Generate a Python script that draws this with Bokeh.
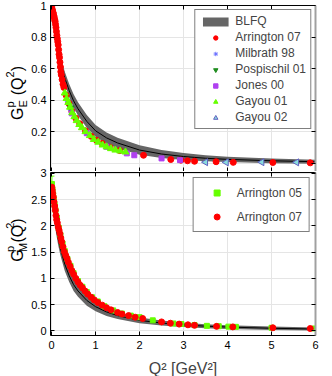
from bokeh.plotting import figure
from bokeh.models import (Range1d, LinearAxis, FixedTicker, Legend, LegendItem,
                          Whisker, ColumnDataSource, TeeHead)
from bokeh.layouts import column, row
from bokeh.core.properties import value
from bokeh.embed import file_html
from bokeh.resources import INLINE
import math

FONT = "Liberation Sans"

# ---------------- data ----------------
x_ticks = [0, 1, 2, 3, 4, 5, 6]
ge_ticks = [0.2, 0.4, 0.6, 0.8, 1]
ge_ticks_all = [0, 0.2, 0.4, 0.6, 0.8, 1]
gm_ticks = [0, 0.5, 1, 1.5, 2, 2.5, 3]

# BLFQ band (Q^2 grid, lower / upper edge, central line)
q_blfq = [0, 0.025, 0.05, 0.1, 0.15, 0.2, 0.3, 0.4, 0.5, 0.6, 0.8, 1.0, 1.25, 1.5, 2.0, 2.5, 3.0, 3.5, 4.0, 5.0, 6.0]
ge_blfq_mid = [1.0, 0.94, 0.885, 0.79, 0.71, 0.645, 0.54, 0.46, 0.395, 0.345, 0.265, 0.205, 0.16, 0.128, 0.083, 0.058, 0.042, 0.031, 0.024, 0.015, 0.009]
ge_blfq_lo = [1.0, 0.934, 0.873, 0.768, 0.68, 0.61, 0.5, 0.418, 0.353, 0.303, 0.225, 0.168, 0.125, 0.095, 0.053, 0.032, 0.02, 0.012, 0.007, 0.0, -0.004]
ge_blfq_hi = [1.0, 0.946, 0.897, 0.812, 0.74, 0.68, 0.58, 0.502, 0.437, 0.387, 0.305, 0.242, 0.195, 0.161, 0.113, 0.084, 0.064, 0.05, 0.041, 0.03, 0.022]
gm_blfq_mid = [2.72, 2.5, 2.3, 1.99, 1.76, 1.57, 1.27, 1.05, 0.88, 0.76, 0.58, 0.46, 0.36, 0.29, 0.2, 0.148, 0.113, 0.089, 0.072, 0.049, 0.034]
gm_blfq_lo = [2.66, 2.42, 2.2, 1.87, 1.63, 1.44, 1.14, 0.93, 0.76, 0.65, 0.48, 0.375, 0.285, 0.225, 0.145, 0.101, 0.071, 0.051, 0.037, 0.017, 0.004]
gm_blfq_hi = [2.78, 2.58, 2.4, 2.11, 1.89, 1.7, 1.4, 1.17, 1.0, 0.87, 0.68, 0.545, 0.435, 0.355, 0.255, 0.195, 0.155, 0.127, 0.107, 0.081, 0.064]

# G_E data sets
ge_a07_q = [0.005, 0.01, 0.02, 0.03, 0.04, 0.05, 0.06, 0.07, 0.08, 0.09, 0.1, 0.11, 0.12, 0.13, 0.14, 0.15,
            0.16, 0.17, 0.18, 0.19, 0.2, 0.21, 0.22, 0.24, 0.26, 0.28, 0.33, 0.39, 0.46, 0.55, 0.64, 0.77,
            0.9, 1.02, 1.15, 1.33, 1.55, 2.09, 2.71, 2.94, 3.09, 3.25, 3.74, 4.13, 5.03, 5.88]
ge_a07 = [0.99, 0.975, 0.97, 0.955, 0.95, 0.935, 0.925, 0.91, 0.9, 0.88, 0.86, 0.835, 0.81, 0.79, 0.77, 0.75,
          0.72, 0.69, 0.67, 0.64, 0.61, 0.58, 0.56, 0.53, 0.5, 0.48, 0.43, 0.38, 0.33, 0.285, 0.25, 0.205,
          0.17, 0.145, 0.125, 0.1, 0.08, 0.05, 0.023, 0.019, 0.015, 0.012, 0.009, 0.005, 0.004, 0.002]
ge_m98_q = [0.37, 0.44]
ge_m98 = [0.39, 0.335]
ge_p01_q = [0.43]
ge_p01 = [0.35]
ge_j00_q = [0.46, 0.8, 1.25, 1.71, 1.88, 2.5, 2.92]
ge_j00 = [0.316, 0.19, 0.104, 0.062, 0.05, 0.03, 0.019]
ge_g01_q = [0.3, 0.34, 0.38, 0.42, 0.47, 0.52, 0.57, 0.63, 0.69, 0.77, 0.87, 0.96, 1.06, 1.16, 1.25, 1.35, 1.45, 1.56, 1.68]
ge_g01 = [0.445, 0.41, 0.385, 0.355, 0.32, 0.295, 0.27, 0.245, 0.225, 0.2, 0.175, 0.15, 0.133, 0.115, 0.103, 0.092, 0.083, 0.077, 0.071]
ge_g02_q = [3.5, 3.97, 4.78, 5.57]
ge_g02 = [0.006, 0.005, 0.006, 0.005]

# G_M data sets
gm_a05_q = [0.007, 0.02, 0.035, 0.05, 0.07, 0.09, 0.12, 0.16, 0.2, 0.25, 0.3, 0.36, 0.43, 0.5, 0.6, 0.7, 0.8,
            0.92, 1.05, 1.2, 1.4, 1.6, 1.8, 2.0, 2.3, 2.77, 2.95, 3.25, 3.53, 3.8, 4.02, 4.19, 5.0, 5.98]
gm_a05 = [2.8, 2.7, 2.6, 2.5, 2.4, 2.3, 2.15, 1.97, 1.83, 1.66, 1.52, 1.37, 1.24, 1.1, 0.95, 0.84, 0.74,
          0.64, 0.56, 0.47, 0.39, 0.33, 0.29, 0.26, 0.2, 0.14, 0.13, 0.11, 0.095, 0.088, 0.08, 0.076, 0.058, 0.045]
gm_a05_err = [0.15, 0.12, 0.1, 0.08, 0.06, 0.05, 0.04, 0.03, 0.03, 0.02, 0.02, 0.02, 0.02, 0.015, 0.015, 0.01, 0.01,
              0.01, 0.01, 0.01, 0.01, 0.01, 0.01, 0.01, 0.01, 0.01, 0.01, 0.01, 0.01, 0.01, 0.01, 0.01, 0.01, 0.01]
gm_a07_q = [0.005, 0.015, 0.025, 0.04, 0.055, 0.07, 0.085, 0.1, 0.115, 0.13, 0.15, 0.17, 0.19, 0.21, 0.23,
            0.26, 0.29, 0.32, 0.35, 0.38, 0.42, 0.46, 0.5, 0.55, 0.6, 0.65, 0.7, 0.76, 0.82, 0.9, 0.97, 1.05,
            1.15, 1.25, 1.35, 1.5, 1.6, 1.75, 1.9, 2.07, 2.5, 2.7, 2.9, 3.1, 3.25, 3.75, 4.12, 5.03, 5.88]
gm_a07 = [2.74, 2.68, 2.62, 2.55, 2.46, 2.38, 2.3, 2.2, 2.12, 2.06, 1.98, 1.92, 1.85, 1.77, 1.7,
          1.6, 1.51, 1.44, 1.38, 1.31, 1.23, 1.15, 1.08, 1.0, 0.93, 0.87, 0.82, 0.76, 0.7, 0.64, 0.59, 0.54,
          0.49, 0.44, 0.4, 0.35, 0.32, 0.29, 0.26, 0.235, 0.17, 0.145, 0.128, 0.115, 0.105, 0.085, 0.075, 0.058, 0.044]

BAND = "#666666"
LAB_W = 28
H1 = 172
H2 = 210


def axis(ticks, show_labels, line_color="black", line_width=1):
    ax = LinearAxis(ticker=FixedTicker(ticks=ticks), major_tick_in=4, major_tick_out=0,
                    minor_tick_line_color=None, axis_line_color=line_color, axis_line_width=line_width,
                    major_tick_line_color="black", major_label_text_font=FONT)
    if show_labels:
        ax.major_label_text_font_size = "11px"
        ax.major_label_text_color = "black"
        ax.major_label_standoff = 4
    else:
        ax.major_label_text_font_size = "1px"
        ax.major_label_text_color = None
        ax.major_label_standoff = 0
    return ax


def panel(fh, yr, yticks, yticks_mirror, x_labels, btop, bbot):
    p = figure(frame_width=265, frame_height=fh, x_range=Range1d(-0.025, 6.0), y_range=Range1d(*yr),
               output_backend="svg", toolbar_location=None, x_axis_location=None, y_axis_location=None,
               min_border_left=49 - LAB_W, min_border_right=18, min_border_top=btop, min_border_bottom=bbot)
    p.outline_line_color = None
    p.border_fill_color = None
    p.background_fill_color = "white"
    p.add_layout(axis(x_ticks, x_labels), "below")
    p.add_layout(axis(yticks, True), "left")
    p.add_layout(axis(x_ticks, False), "above")
    p.add_layout(axis(yticks_mirror, False, line_color="#a0a0a0", line_width=2), "right")
    return p


def ylabel_fig(h, sub, y0):
    # narrow strip holding the rotated composite label G^p_sub (Q^2); units are pixels
    f = figure(width=LAB_W, height=h, x_range=Range1d(0, LAB_W), y_range=Range1d(0, h),
               output_backend="svg", toolbar_location=None, x_axis_location=None, y_axis_location=None,
               min_border=0, outline_line_color=None, border_fill_color=None, background_fill_color=None)
    f.grid.visible = False
    pieces = [("G", 16, 0.0, 17), ("p", 11, 13.0, 9.5), (sub, 11, 13.0, 22.5),
              ("(Q", 16, 25.5, 17), ("2", 11, 43.8, 9.5), (")", 16, 50.4, 17)]
    for txt, fs, off, xb in pieces:
        f.text(x=[xb], y=[y0 + off], text=[txt], angle=math.pi / 2, text_font=value(FONT),
               text_font_size=f"{fs}px", text_align="left", text_baseline="alphabetic", text_color="black")
    return f


# ---------------- top panel: G_E ----------------
p1 = panel(166, (-0.053, 1.0), ge_ticks, ge_ticks_all, False, 5, 0)
band1 = p1.varea(x=q_blfq, y1=ge_blfq_lo, y2=ge_blfq_hi, fill_color=BAND, fill_alpha=1.0)
p1.line(q_blfq, ge_blfq_mid, line_color="black", line_width=1)
r_a07 = p1.scatter(ge_a07_q, ge_a07, marker="circle", size=6, fill_color="#ff0000", line_color="#ff0000")
r_m98 = p1.scatter(ge_m98_q, ge_m98, marker="asterisk", size=6, line_color="#6a70ff")
r_p01 = p1.scatter(ge_p01_q, ge_p01, marker="inverted_triangle", size=7, fill_color="#1e8c1e", line_color="#1e8c1e")
r_j00 = p1.scatter(ge_j00_q, ge_j00, marker="square", size=5, fill_color="#b040f0", line_color="#b040f0")
r_g01 = p1.scatter(ge_g01_q, ge_g01, marker="triangle", size=7, fill_color="#66ff00", line_color="#66ff00")
r_g02 = p1.scatter(ge_g02_q, ge_g02, marker="triangle", angle=math.pi / 2, size=7,
                   fill_color="#88dddd", line_color="#6060c0")

leg1 = Legend(items=[LegendItem(label="BLFQ", renderers=[band1]),
                     LegendItem(label="Arrington 07", renderers=[r_a07]),
                     LegendItem(label="Milbrath 98", renderers=[r_m98]),
                     LegendItem(label="Pospischil 01", renderers=[r_p01]),
                     LegendItem(label="Jones 00", renderers=[r_j00]),
                     LegendItem(label="Gayou 01", renderers=[r_g01]),
                     LegendItem(label="Gayou 02", renderers=[r_g02])],
              location="top_right", margin=4, padding=4, spacing=2, glyph_width=32, glyph_height=11,
              label_height=12, label_standoff=4, label_text_font=FONT, label_text_font_size="12px",
              border_line_color="black", border_line_width=1, background_fill_alpha=1.0)
p1.add_layout(leg1)
lab1 = ylabel_fig(H1, "E", H1 - 118)

# ---------------- bottom panel: G_M ----------------
p2 = panel(163, (-0.089, 3.019), gm_ticks, gm_ticks, True, 7, 40)
band2 = p2.varea(x=q_blfq, y1=gm_blfq_lo, y2=gm_blfq_hi, fill_color=BAND, fill_alpha=1.0)
p2.line(q_blfq, gm_blfq_mid, line_color="black", line_width=1)
src05 = ColumnDataSource(dict(q=gm_a05_q, v=gm_a05,
                              lo=[v - e for v, e in zip(gm_a05, gm_a05_err)],
                              hi=[v + e for v, e in zip(gm_a05, gm_a05_err)]))
p2.add_layout(Whisker(source=src05, base="q", lower="lo", upper="hi", line_color="#66ff00",
                      upper_head=TeeHead(size=5, line_color="#66ff00"),
                      lower_head=TeeHead(size=5, line_color="#66ff00")))
r_a05 = p2.scatter("q", "v", source=src05, marker="square", size=5, fill_color="#66ff00", line_color="#66ff00")
r_b07 = p2.scatter(gm_a07_q, gm_a07, marker="circle", size=6, fill_color="#ff0000", line_color="#ff0000")
leg2 = Legend(items=[LegendItem(label="Arrington 05", renderers=[r_a05]),
                     LegendItem(label="Arrington 07", renderers=[r_b07])],
              location="top_right", margin=5, padding=7, spacing=9, glyph_width=32, glyph_height=15,
              label_height=15, label_standoff=4, label_text_font=FONT, label_text_font_size="12px",
              border_line_color="black", border_line_width=1, background_fill_alpha=1.0)
p2.add_layout(leg2)
p2.below[0].axis_label = "Q² [GeV²]"
p2.below[0].axis_label_text_font = FONT
p2.below[0].axis_label_text_font_size = "16px"
p2.below[0].axis_label_text_font_style = "normal"
p2.below[0].axis_label_standoff = 8
p2.below[0].major_label_standoff = 5
lab2 = ylabel_fig(H2, "M", H2 - 118)

row1 = row(lab1, p1, spacing=0)
row2 = row(lab2, p2, spacing=0)
row2.styles = {"margin-top": "-7px"}
layout = column(row1, row2, spacing=0)
open("out.html", "w").write(file_html(layout, INLINE))
